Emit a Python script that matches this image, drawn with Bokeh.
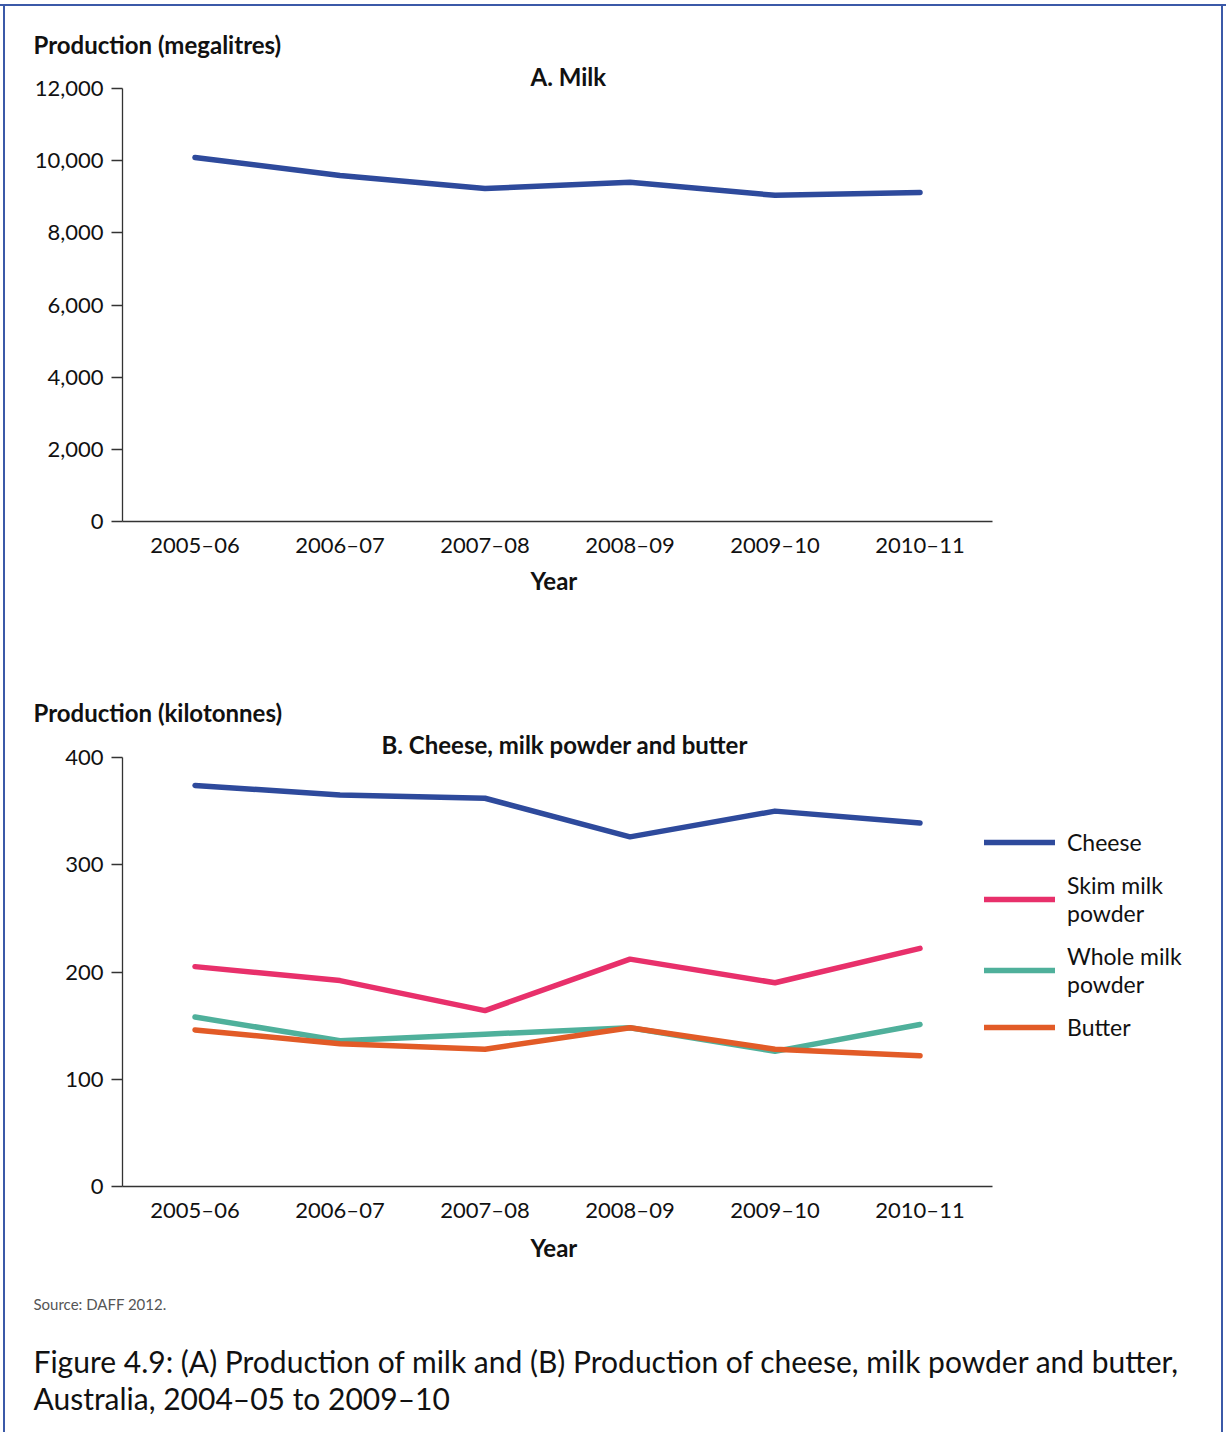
from bokeh.plotting import figure
from bokeh.layouts import column
from bokeh.models import (Range1d, FixedTicker, NumeralTickFormatter,
                          Title, Legend, LegendItem)
from bokeh.embed import file_html
from bokeh.resources import INLINE

# ---------------- data ----------------
years = ["2005–06", "2006–07", "2007–08", "2008–09", "2009–10", "2010–11"]
milk = [10090, 9590, 9230, 9400, 9040, 9120]          # megalitres
cheese = [374, 365, 362, 326, 350, 339]               # kilotonnes
skim_milk_powder = [205, 192, 164, 212, 190, 222]
whole_milk_powder = [158, 136, 142, 148, 126, 151]
butter = [146, 133, 128, 148, 128, 122]
milk_ticks = [0, 2000, 4000, 6000, 8000, 10000, 12000]
dairy_ticks = [0, 100, 200, 300, 400]

# category slots: each year occupies one unit, centred at i + 0.5
xpos = [i + 0.5 for i in range(len(years))]

FONT = "Lato"
BLUE = "#2E4A9C"
PINK = "#E8306B"
TEAL = "#4FB09B"
ORANGE = "#E25B27"
BORDER = "#3B59A8"
TXT = "#111111"
AXIS = "#333333"
W = 1226
LEFT = 122
AXIS_PX = 870           # pixel length of the x axis
X_END = len(years) * (W - LEFT) / AXIS_PX   # range extends past the axis to host the legend


def style(p, ticks):
    p.xgrid.visible = False
    p.ygrid.visible = False
    p.outline_line_color = None
    p.background_fill_color = None
    p.border_fill_color = None
    for ax in (p.xaxis[0], p.yaxis[0]):
        ax.axis_line_color = AXIS
        ax.axis_line_width = 1.3
        ax.major_label_text_font = FONT
        ax.major_label_text_font_size = "22px"
        ax.major_label_text_color = TXT
        ax.minor_tick_line_color = None
    xa = p.xaxis[0]
    xa.bounds = (0, len(years))
    xa.ticker = FixedTicker(ticks=xpos)
    xa.major_label_overrides = dict(zip(xpos, years))
    xa.major_tick_line_color = None
    xa.major_label_standoff = 3
    ya = p.yaxis[0]
    ya.ticker = FixedTicker(ticks=ticks)
    ya.formatter = NumeralTickFormatter(format="0,0")
    ya.major_tick_line_color = AXIS
    ya.major_tick_line_width = 1.3
    ya.major_tick_out = 11
    ya.major_tick_in = 0
    ya.major_label_standoff = 8


def add_title(p, text, offset, standoff, place="above", size="24px",
              style_="bold", color=TXT, line_height=1.0):
    kw = dict(text=text, align="left", offset=offset,
              text_font=FONT, text_font_size=size, text_font_style=style_,
              text_color=color, text_line_height=line_height)
    try:
        t = Title(standoff=standoff, **kw)
    except Exception:
        t = Title(standoff=max(standoff, 0), **kw)
    p.add_layout(t, place)


# ---------------- panel A ----------------
pA = figure(x_range=Range1d(0, X_END), y_range=Range1d(0, 12000), title=None,
            width=W, height=648, min_border_left=LEFT, min_border_right=0,
            min_border_top=88, min_border_bottom=127,
            output_backend="svg", toolbar_location=None)
pA.line(xpos, milk, line_width=5.5, line_color=BLUE, line_cap="round", line_join="round")
style(pA, milk_ticks)
add_title(pA, "A. Milk", 408, -4)
add_title(pA, "Production (megalitres)", -89, 5)
add_title(pA, "Year", 408, 7, "below")

# ---------------- panel B ----------------
pB = figure(x_range=Range1d(0, X_END), y_range=Range1d(0, 400), title=None,
            width=W, height=784, min_border_left=LEFT, min_border_right=0,
            min_border_top=109, min_border_bottom=246,
            output_backend="svg", toolbar_location=None)
series = [("Cheese", cheese, BLUE),
          ("Skim milk\npowder", skim_milk_powder, PINK),
          ("Whole milk\npowder", whole_milk_powder, TEAL),
          ("Butter", butter, ORANGE)]
items = []
for name, vals, col in series:
    r = pB.line(xpos, vals, line_width=5.5, line_color=col, line_cap="round", line_join="round")
    items.append(LegendItem(label=name, renderers=[r]))
style(pB, dairy_ticks)
legend = Legend(items=items, location=(862, 145), padding=0, margin=0,
                border_line_alpha=0, background_fill_alpha=0,
                glyph_width=71, glyph_height=28, label_height=28,
                label_standoff=12, spacing=15,
                label_text_font=FONT, label_text_font_size="23px",
                label_text_color=TXT, label_text_line_height=1.22)
pB.add_layout(legend)
add_title(pB, "B. Cheese, milk powder and butter", 259, -3)
add_title(pB, "Production (kilotonnes)", -89, 5)
add_title(pB, "Year", 408, 10, "below")
add_title(pB, "Source: DAFF 2012.", -89, 53, "below", "15px", "normal", "#555555")
add_title(pB, "Figure 4.9: (A) Production of milk and (B) Production of cheese, milk powder and butter,\n"
              "Australia, 2004–05 to 2009–10",
          -89, 4, "below", "30px", "normal", TXT, 1.03)

root = column(pA, pB, spacing=0, width=W,
              styles={"background-color": "white",
                      "background-image": f"linear-gradient({BORDER},{BORDER}), "
                                          f"linear-gradient({BORDER},{BORDER}), "
                                          f"linear-gradient({BORDER},{BORDER})",
                      "background-size": "2px 100%, 2px 100%, 100% 2px",
                      "background-position": "3px 4px, 1221px 4px, 0px 4px",
                      "background-repeat": "no-repeat"})

with open("out.html", "w") as f:
    f.write(file_html(root, INLINE))
